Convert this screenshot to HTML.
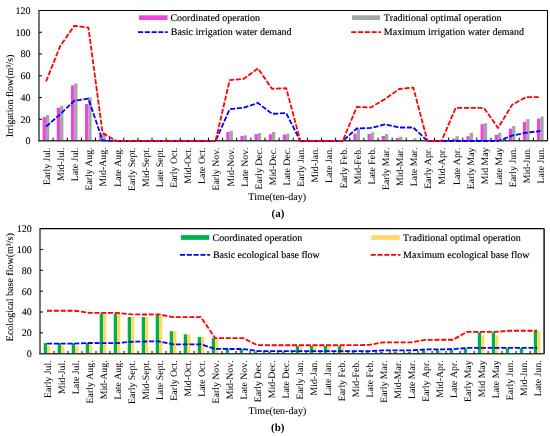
<!DOCTYPE html>
<html><head><meta charset="utf-8"><style>
html,body{margin:0;padding:0;background:#fff;width:550px;height:436px;overflow:hidden}
svg{display:block}
svg{will-change:transform}
text{fill:#000;font-family:"Liberation Serif",serif;font-kerning:none;text-rendering:geometricPrecision}
</style></head><body>
<svg width="550" height="436" viewBox="0 0 550 436">
<rect width="550" height="436" fill="#fff"/>
<rect x="42.66" y="117.08" width="3.30" height="23.92" fill="#EE44E4"/>
<rect x="45.96" y="115.01" width="3.30" height="25.99" fill="#A5A5A5"/>
<rect x="56.79" y="107.83" width="3.30" height="33.17" fill="#EE44E4"/>
<rect x="60.09" y="105.77" width="3.30" height="35.23" fill="#A5A5A5"/>
<rect x="70.91" y="85.43" width="3.30" height="55.57" fill="#EE44E4"/>
<rect x="74.21" y="83.58" width="3.30" height="57.42" fill="#A5A5A5"/>
<rect x="85.04" y="104.03" width="3.30" height="36.97" fill="#EE44E4"/>
<rect x="88.34" y="97.39" width="3.30" height="43.61" fill="#A5A5A5"/>
<rect x="99.16" y="135.02" width="3.30" height="5.98" fill="#EE44E4"/>
<rect x="102.46" y="132.84" width="3.30" height="8.16" fill="#A5A5A5"/>
<rect x="226.29" y="131.97" width="3.30" height="9.03" fill="#EE44E4"/>
<rect x="229.59" y="130.89" width="3.30" height="10.11" fill="#A5A5A5"/>
<rect x="240.41" y="136.00" width="3.30" height="5.00" fill="#EE44E4"/>
<rect x="243.71" y="135.34" width="3.30" height="5.66" fill="#A5A5A5"/>
<rect x="254.54" y="134.04" width="3.30" height="6.96" fill="#EE44E4"/>
<rect x="257.84" y="132.95" width="3.30" height="8.05" fill="#A5A5A5"/>
<rect x="268.66" y="134.26" width="3.30" height="6.74" fill="#EE44E4"/>
<rect x="271.96" y="131.97" width="3.30" height="9.03" fill="#A5A5A5"/>
<rect x="282.79" y="134.69" width="3.30" height="6.31" fill="#EE44E4"/>
<rect x="286.09" y="133.60" width="3.30" height="7.40" fill="#A5A5A5"/>
<rect x="353.41" y="133.60" width="3.30" height="7.40" fill="#EE44E4"/>
<rect x="356.71" y="128.49" width="3.30" height="12.51" fill="#A5A5A5"/>
<rect x="367.54" y="133.93" width="3.30" height="7.07" fill="#EE44E4"/>
<rect x="370.84" y="132.30" width="3.30" height="8.70" fill="#A5A5A5"/>
<rect x="381.66" y="136.00" width="3.30" height="5.00" fill="#EE44E4"/>
<rect x="384.96" y="134.04" width="3.30" height="6.96" fill="#A5A5A5"/>
<rect x="395.79" y="138.06" width="3.30" height="2.94" fill="#EE44E4"/>
<rect x="399.09" y="136.76" width="3.30" height="4.24" fill="#A5A5A5"/>
<rect x="409.91" y="140.67" width="3.30" height="0.33" fill="#EE44E4"/>
<rect x="413.21" y="138.28" width="3.30" height="2.72" fill="#A5A5A5"/>
<rect x="452.29" y="138.61" width="3.30" height="2.39" fill="#EE44E4"/>
<rect x="455.59" y="136.22" width="3.30" height="4.78" fill="#A5A5A5"/>
<rect x="466.41" y="136.22" width="3.30" height="4.78" fill="#EE44E4"/>
<rect x="469.71" y="132.84" width="3.30" height="8.16" fill="#A5A5A5"/>
<rect x="480.54" y="124.25" width="3.30" height="16.75" fill="#EE44E4"/>
<rect x="483.84" y="123.17" width="3.30" height="17.83" fill="#A5A5A5"/>
<rect x="494.66" y="134.80" width="3.30" height="6.20" fill="#EE44E4"/>
<rect x="497.96" y="132.84" width="3.30" height="8.16" fill="#A5A5A5"/>
<rect x="508.79" y="128.71" width="3.30" height="12.29" fill="#EE44E4"/>
<rect x="512.09" y="125.99" width="3.30" height="15.01" fill="#A5A5A5"/>
<rect x="522.91" y="121.86" width="3.30" height="19.14" fill="#EE44E4"/>
<rect x="526.21" y="119.14" width="3.30" height="21.86" fill="#A5A5A5"/>
<rect x="537.04" y="118.71" width="3.30" height="22.29" fill="#EE44E4"/>
<rect x="540.34" y="116.64" width="3.30" height="24.36" fill="#A5A5A5"/>
<line x1="39.0" y1="10.5" x2="547.5" y2="10.5" stroke="#000" stroke-width="1.1"/>
<line x1="547.5" y1="10.5" x2="547.5" y2="140.85" stroke="#000" stroke-width="1.1"/>
<line x1="39.0" y1="10.0" x2="39.0" y2="141.45" stroke="#3a3a3a" stroke-width="1.4"/>
<line x1="38.4" y1="140.85" x2="548.0" y2="140.85" stroke="#3a3a3a" stroke-width="1.5"/>
<line x1="53.12" y1="140.85" x2="53.12" y2="137.65" stroke="#000" stroke-width="1"/>
<line x1="67.25" y1="140.85" x2="67.25" y2="137.65" stroke="#000" stroke-width="1"/>
<line x1="81.38" y1="140.85" x2="81.38" y2="137.65" stroke="#000" stroke-width="1"/>
<line x1="95.50" y1="140.85" x2="95.50" y2="137.65" stroke="#000" stroke-width="1"/>
<line x1="109.62" y1="140.85" x2="109.62" y2="137.65" stroke="#000" stroke-width="1"/>
<line x1="123.75" y1="140.85" x2="123.75" y2="137.65" stroke="#000" stroke-width="1"/>
<line x1="137.88" y1="140.85" x2="137.88" y2="137.65" stroke="#000" stroke-width="1"/>
<line x1="152.00" y1="140.85" x2="152.00" y2="137.65" stroke="#000" stroke-width="1"/>
<line x1="166.12" y1="140.85" x2="166.12" y2="137.65" stroke="#000" stroke-width="1"/>
<line x1="180.25" y1="140.85" x2="180.25" y2="137.65" stroke="#000" stroke-width="1"/>
<line x1="194.38" y1="140.85" x2="194.38" y2="137.65" stroke="#000" stroke-width="1"/>
<line x1="208.50" y1="140.85" x2="208.50" y2="137.65" stroke="#000" stroke-width="1"/>
<line x1="222.62" y1="140.85" x2="222.62" y2="137.65" stroke="#000" stroke-width="1"/>
<line x1="236.75" y1="140.85" x2="236.75" y2="137.65" stroke="#000" stroke-width="1"/>
<line x1="250.88" y1="140.85" x2="250.88" y2="137.65" stroke="#000" stroke-width="1"/>
<line x1="265.00" y1="140.85" x2="265.00" y2="137.65" stroke="#000" stroke-width="1"/>
<line x1="279.12" y1="140.85" x2="279.12" y2="137.65" stroke="#000" stroke-width="1"/>
<line x1="293.25" y1="140.85" x2="293.25" y2="137.65" stroke="#000" stroke-width="1"/>
<line x1="307.38" y1="140.85" x2="307.38" y2="137.65" stroke="#000" stroke-width="1"/>
<line x1="321.50" y1="140.85" x2="321.50" y2="137.65" stroke="#000" stroke-width="1"/>
<line x1="335.62" y1="140.85" x2="335.62" y2="137.65" stroke="#000" stroke-width="1"/>
<line x1="349.75" y1="140.85" x2="349.75" y2="137.65" stroke="#000" stroke-width="1"/>
<line x1="363.88" y1="140.85" x2="363.88" y2="137.65" stroke="#000" stroke-width="1"/>
<line x1="378.00" y1="140.85" x2="378.00" y2="137.65" stroke="#000" stroke-width="1"/>
<line x1="392.12" y1="140.85" x2="392.12" y2="137.65" stroke="#000" stroke-width="1"/>
<line x1="406.25" y1="140.85" x2="406.25" y2="137.65" stroke="#000" stroke-width="1"/>
<line x1="420.38" y1="140.85" x2="420.38" y2="137.65" stroke="#000" stroke-width="1"/>
<line x1="434.50" y1="140.85" x2="434.50" y2="137.65" stroke="#000" stroke-width="1"/>
<line x1="448.62" y1="140.85" x2="448.62" y2="137.65" stroke="#000" stroke-width="1"/>
<line x1="462.75" y1="140.85" x2="462.75" y2="137.65" stroke="#000" stroke-width="1"/>
<line x1="476.88" y1="140.85" x2="476.88" y2="137.65" stroke="#000" stroke-width="1"/>
<line x1="491.00" y1="140.85" x2="491.00" y2="137.65" stroke="#000" stroke-width="1"/>
<line x1="505.12" y1="140.85" x2="505.12" y2="137.65" stroke="#000" stroke-width="1"/>
<line x1="519.25" y1="140.85" x2="519.25" y2="137.65" stroke="#000" stroke-width="1"/>
<line x1="533.38" y1="140.85" x2="533.38" y2="137.65" stroke="#000" stroke-width="1"/>
<line x1="39.0" y1="119.25" x2="42.00" y2="119.25" stroke="#000" stroke-width="1"/>
<line x1="39.0" y1="97.50" x2="42.00" y2="97.50" stroke="#000" stroke-width="1"/>
<line x1="39.0" y1="75.75" x2="42.00" y2="75.75" stroke="#000" stroke-width="1"/>
<line x1="39.0" y1="54.00" x2="42.00" y2="54.00" stroke="#000" stroke-width="1"/>
<line x1="39.0" y1="32.25" x2="42.00" y2="32.25" stroke="#000" stroke-width="1"/>
<polyline points="46.06,126.64 60.19,114.25 74.31,100.76 88.44,98.70 102.56,140.46 116.69,141.00 130.81,141.00 144.94,141.00 159.06,141.00 173.19,141.00 187.31,141.00 201.44,141.00 215.56,141.00 229.69,109.25 243.81,107.72 257.94,102.94 272.06,113.81 286.19,113.16 300.31,141.00 314.44,141.00 328.56,141.00 342.69,141.00 356.81,128.49 370.94,127.95 385.06,124.36 399.19,127.52 413.31,127.52 427.44,141.00 441.56,141.00 455.69,141.00 469.81,141.00 483.94,141.00 498.06,141.00 512.19,135.56 526.31,132.74 540.44,131.00" fill="none" stroke="#0000FF" stroke-width="1.8" stroke-dasharray="5.1 1.7" stroke-linejoin="round"/>
<line x1="116.69" y1="141.00" x2="215.56" y2="141.00" stroke="#0000FF" stroke-width="1.8"/>
<line x1="300.31" y1="141.00" x2="342.69" y2="141.00" stroke="#0000FF" stroke-width="1.8"/>
<line x1="427.44" y1="141.00" x2="441.56" y2="141.00" stroke="#0000FF" stroke-width="1.8"/>
<polyline points="46.06,81.51 60.19,46.06 74.31,25.83 88.44,27.57 102.56,133.06 116.69,141.00 130.81,141.00 144.94,141.00 159.06,141.00 173.19,141.00 187.31,141.00 201.44,141.00 215.56,141.00 229.69,80.10 243.81,78.80 257.94,68.46 272.06,88.80 286.19,88.15 300.31,141.00 314.44,141.00 328.56,141.00 342.69,141.00 356.81,106.96 370.94,107.40 385.06,99.02 399.19,89.02 413.31,87.60 427.44,141.00 441.56,141.00 455.69,107.94 469.81,107.94 483.94,107.94 498.06,127.95 512.19,104.68 526.31,97.06 540.44,97.06" fill="none" stroke="#FF0000" stroke-width="1.8" stroke-dasharray="5.1 1.7" stroke-linejoin="round"/>
<text x="30.60" y="144.40" text-anchor="end" font-size="10" stroke="#000" stroke-width="0.08">0</text>
<text x="30.60" y="122.65" text-anchor="end" font-size="10" stroke="#000" stroke-width="0.08">20</text>
<text x="30.60" y="100.90" text-anchor="end" font-size="10" stroke="#000" stroke-width="0.08">40</text>
<text x="30.60" y="79.15" text-anchor="end" font-size="10" stroke="#000" stroke-width="0.08">60</text>
<text x="30.60" y="57.40" text-anchor="end" font-size="10" stroke="#000" stroke-width="0.08">80</text>
<text x="30.60" y="35.65" text-anchor="end" font-size="10" stroke="#000" stroke-width="0.08">100</text>
<text x="30.60" y="13.90" text-anchor="end" font-size="10" stroke="#000" stroke-width="0.08">120</text>
<text transform="translate(49.96,147.50) rotate(-90)" text-anchor="end" font-size="9.8">Early Jul.</text>
<text transform="translate(64.09,147.50) rotate(-90)" text-anchor="end" font-size="9.8">Mid-Jul.</text>
<text transform="translate(78.21,147.50) rotate(-90)" text-anchor="end" font-size="9.8">Late Jul.</text>
<text transform="translate(92.34,147.50) rotate(-90)" text-anchor="end" font-size="9.8">Early Aug.</text>
<text transform="translate(106.46,147.50) rotate(-90)" text-anchor="end" font-size="9.8">Mid-Aug.</text>
<text transform="translate(120.59,147.50) rotate(-90)" text-anchor="end" font-size="9.8">Late Aug.</text>
<text transform="translate(134.71,147.50) rotate(-90)" text-anchor="end" font-size="9.8">Early Sept.</text>
<text transform="translate(148.84,147.50) rotate(-90)" text-anchor="end" font-size="9.8">Mid-Sept.</text>
<text transform="translate(162.96,147.50) rotate(-90)" text-anchor="end" font-size="9.8">Late Sept.</text>
<text transform="translate(177.09,147.50) rotate(-90)" text-anchor="end" font-size="9.8">Early Oct.</text>
<text transform="translate(191.21,147.50) rotate(-90)" text-anchor="end" font-size="9.8">Mid-Oct.</text>
<text transform="translate(205.34,147.50) rotate(-90)" text-anchor="end" font-size="9.8">Late Oct.</text>
<text transform="translate(219.46,147.50) rotate(-90)" text-anchor="end" font-size="9.8">Early Nov.</text>
<text transform="translate(233.59,147.50) rotate(-90)" text-anchor="end" font-size="9.8">Mid-Nov.</text>
<text transform="translate(247.71,147.50) rotate(-90)" text-anchor="end" font-size="9.8">Late Nov.</text>
<text transform="translate(261.84,147.50) rotate(-90)" text-anchor="end" font-size="9.8">Early Dec.</text>
<text transform="translate(275.96,147.50) rotate(-90)" text-anchor="end" font-size="9.8">Mid-Dec.</text>
<text transform="translate(290.09,147.50) rotate(-90)" text-anchor="end" font-size="9.8">Late Dec.</text>
<text transform="translate(304.21,147.50) rotate(-90)" text-anchor="end" font-size="9.8">Early Jan.</text>
<text transform="translate(318.34,147.50) rotate(-90)" text-anchor="end" font-size="9.8">Mid-Jan.</text>
<text transform="translate(332.46,147.50) rotate(-90)" text-anchor="end" font-size="9.8">Late Jan.</text>
<text transform="translate(346.59,147.50) rotate(-90)" text-anchor="end" font-size="9.8">Early Feb.</text>
<text transform="translate(360.71,147.50) rotate(-90)" text-anchor="end" font-size="9.8">Mid-Feb.</text>
<text transform="translate(374.84,147.50) rotate(-90)" text-anchor="end" font-size="9.8">Late Feb.</text>
<text transform="translate(388.96,147.50) rotate(-90)" text-anchor="end" font-size="9.8">Early Mar.</text>
<text transform="translate(403.09,147.50) rotate(-90)" text-anchor="end" font-size="9.8">Mid-Mar.</text>
<text transform="translate(417.21,147.50) rotate(-90)" text-anchor="end" font-size="9.8">Late Mar.</text>
<text transform="translate(431.34,147.50) rotate(-90)" text-anchor="end" font-size="9.8">Early Apr.</text>
<text transform="translate(445.46,147.50) rotate(-90)" text-anchor="end" font-size="9.8">Mid-Apr.</text>
<text transform="translate(459.59,147.50) rotate(-90)" text-anchor="end" font-size="9.8">Late Apr.</text>
<text transform="translate(473.71,147.50) rotate(-90)" text-anchor="end" font-size="9.8">Early May</text>
<text transform="translate(487.84,147.50) rotate(-90)" text-anchor="end" font-size="9.8">Mid May</text>
<text transform="translate(501.96,147.50) rotate(-90)" text-anchor="end" font-size="9.8">Late May</text>
<text transform="translate(516.09,147.50) rotate(-90)" text-anchor="end" font-size="9.8">Early Jun.</text>
<text transform="translate(530.21,147.50) rotate(-90)" text-anchor="end" font-size="9.8">Mid-Jun.</text>
<text transform="translate(544.34,147.50) rotate(-90)" text-anchor="end" font-size="9.8">Late Jun.</text>
<text transform="translate(12.70,96.00) rotate(-90)" text-anchor="middle" font-size="10" stroke="#000" stroke-width="0.08">Irrigation flow(m³/s)</text>
<text x="277.10" y="199.50" text-anchor="middle" font-size="10" stroke="#000" stroke-width="0.08">Time(ten-day)</text>
<text x="278.00" y="216.70" text-anchor="middle" font-size="11" font-weight="bold">(a)</text>
<rect x="139.0" y="15.3" width="28.50" height="4.70" fill="#EE44E4"/>
<rect x="352.1" y="15.3" width="28.00" height="4.70" fill="#A5A5A5"/>
<line x1="138.0" y1="32.05" x2="167.8" y2="32.05" stroke="#0000FF" stroke-width="1.8" stroke-dasharray="5.1 1.7"/>
<line x1="351.2" y1="32.05" x2="381.0" y2="32.05" stroke="#FF0000" stroke-width="1.8" stroke-dasharray="5.1 1.7"/>
<text x="170.40" y="20.70" font-size="10" stroke="#000" stroke-width="0.15">Coordinated operation</text>
<text x="170.80" y="34.80" font-size="10" stroke="#000" stroke-width="0.15">Basic irrigation water demand</text>
<text x="383.70" y="20.70" font-size="10" stroke="#000" stroke-width="0.15">Traditional optimal operation</text>
<text x="383.80" y="34.80" font-size="10" stroke="#000" stroke-width="0.15">Maximum irrigation water demand</text>
<rect x="43.70" y="343.07" width="3.30" height="10.63" fill="#00B050"/>
<rect x="47.00" y="345.99" width="3.30" height="7.71" fill="#FFD966"/>
<rect x="57.70" y="343.07" width="3.30" height="10.63" fill="#00B050"/>
<rect x="61.00" y="345.99" width="3.30" height="7.71" fill="#FFD966"/>
<rect x="71.71" y="343.07" width="3.30" height="10.63" fill="#00B050"/>
<rect x="75.01" y="345.99" width="3.30" height="7.71" fill="#FFD966"/>
<rect x="85.71" y="343.07" width="3.30" height="10.63" fill="#00B050"/>
<rect x="89.01" y="344.32" width="3.30" height="9.38" fill="#FFD966"/>
<rect x="99.71" y="313.56" width="3.30" height="40.14" fill="#00B050"/>
<rect x="103.01" y="313.56" width="3.30" height="40.14" fill="#FFD966"/>
<rect x="113.72" y="313.56" width="3.30" height="40.14" fill="#00B050"/>
<rect x="117.02" y="313.56" width="3.30" height="40.14" fill="#FFD966"/>
<rect x="127.72" y="317.00" width="3.30" height="36.70" fill="#00B050"/>
<rect x="131.02" y="317.00" width="3.30" height="36.70" fill="#FFD966"/>
<rect x="141.72" y="317.00" width="3.30" height="36.70" fill="#00B050"/>
<rect x="145.02" y="317.00" width="3.30" height="36.70" fill="#FFD966"/>
<rect x="155.72" y="314.81" width="3.30" height="38.89" fill="#00B050"/>
<rect x="159.02" y="315.23" width="3.30" height="38.47" fill="#FFD966"/>
<rect x="169.73" y="331.18" width="3.30" height="22.52" fill="#00B050"/>
<rect x="173.03" y="331.18" width="3.30" height="22.52" fill="#FFD966"/>
<rect x="183.73" y="334.31" width="3.30" height="19.39" fill="#00B050"/>
<rect x="187.03" y="334.31" width="3.30" height="19.39" fill="#FFD966"/>
<rect x="197.73" y="337.02" width="3.30" height="16.68" fill="#00B050"/>
<rect x="201.03" y="337.02" width="3.30" height="16.68" fill="#FFD966"/>
<rect x="211.73" y="338.06" width="3.30" height="15.64" fill="#00B050"/>
<rect x="215.03" y="338.48" width="3.30" height="15.22" fill="#FFD966"/>
<rect x="225.74" y="349.22" width="3.30" height="4.48" fill="#00B050"/>
<rect x="239.74" y="349.22" width="3.30" height="4.48" fill="#00B050"/>
<rect x="253.74" y="351.41" width="3.30" height="2.29" fill="#00B050"/>
<rect x="267.75" y="351.62" width="3.30" height="2.08" fill="#00B050"/>
<rect x="281.75" y="351.62" width="3.30" height="2.08" fill="#00B050"/>
<rect x="295.75" y="345.99" width="3.30" height="7.71" fill="#00B050"/>
<rect x="299.05" y="347.24" width="3.30" height="6.46" fill="#FFD966"/>
<rect x="309.75" y="345.99" width="3.30" height="7.71" fill="#00B050"/>
<rect x="313.05" y="347.24" width="3.30" height="6.46" fill="#FFD966"/>
<rect x="323.76" y="345.99" width="3.30" height="7.71" fill="#00B050"/>
<rect x="327.06" y="347.24" width="3.30" height="6.46" fill="#FFD966"/>
<rect x="337.76" y="345.99" width="3.30" height="7.71" fill="#00B050"/>
<rect x="341.06" y="347.24" width="3.30" height="6.46" fill="#FFD966"/>
<rect x="351.76" y="352.03" width="3.30" height="1.67" fill="#00B050"/>
<rect x="365.77" y="352.03" width="3.30" height="1.67" fill="#00B050"/>
<rect x="379.77" y="351.82" width="3.30" height="1.88" fill="#00B050"/>
<rect x="393.77" y="351.82" width="3.30" height="1.88" fill="#00B050"/>
<rect x="407.77" y="351.82" width="3.30" height="1.88" fill="#00B050"/>
<rect x="421.78" y="349.63" width="3.30" height="4.07" fill="#00B050"/>
<rect x="425.08" y="350.89" width="3.30" height="2.81" fill="#FFD966"/>
<rect x="435.78" y="349.63" width="3.30" height="4.07" fill="#00B050"/>
<rect x="439.08" y="350.99" width="3.30" height="2.71" fill="#FFD966"/>
<rect x="449.78" y="349.63" width="3.30" height="4.07" fill="#00B050"/>
<rect x="463.78" y="348.38" width="3.30" height="5.32" fill="#00B050"/>
<rect x="477.79" y="332.33" width="3.30" height="21.37" fill="#00B050"/>
<rect x="481.09" y="335.14" width="3.30" height="18.56" fill="#FFD966"/>
<rect x="491.79" y="332.33" width="3.30" height="21.37" fill="#00B050"/>
<rect x="495.09" y="335.14" width="3.30" height="18.56" fill="#FFD966"/>
<rect x="505.79" y="348.17" width="3.30" height="5.53" fill="#00B050"/>
<rect x="519.80" y="348.17" width="3.30" height="5.53" fill="#00B050"/>
<rect x="533.80" y="330.97" width="3.30" height="22.73" fill="#00B050"/>
<rect x="537.10" y="330.97" width="3.30" height="22.73" fill="#FFD966"/>
<line x1="40.0" y1="228.6" x2="544.1" y2="228.6" stroke="#000" stroke-width="1.1"/>
<line x1="544.1" y1="228.6" x2="544.1" y2="353.7" stroke="#000" stroke-width="1.4"/>
<line x1="40.0" y1="228.1" x2="40.0" y2="354.3" stroke="#3a3a3a" stroke-width="1.4"/>
<line x1="39.4" y1="353.7" x2="544.6" y2="353.7" stroke="#3a3a3a" stroke-width="1.4"/>
<line x1="54.00" y1="353.7" x2="54.00" y2="351.00" stroke="#000" stroke-width="1"/>
<line x1="68.01" y1="353.7" x2="68.01" y2="351.00" stroke="#000" stroke-width="1"/>
<line x1="82.01" y1="353.7" x2="82.01" y2="351.00" stroke="#000" stroke-width="1"/>
<line x1="96.01" y1="353.7" x2="96.01" y2="351.00" stroke="#000" stroke-width="1"/>
<line x1="110.01" y1="353.7" x2="110.01" y2="351.00" stroke="#000" stroke-width="1"/>
<line x1="124.02" y1="353.7" x2="124.02" y2="351.00" stroke="#000" stroke-width="1"/>
<line x1="138.02" y1="353.7" x2="138.02" y2="351.00" stroke="#000" stroke-width="1"/>
<line x1="152.02" y1="353.7" x2="152.02" y2="351.00" stroke="#000" stroke-width="1"/>
<line x1="166.03" y1="353.7" x2="166.03" y2="351.00" stroke="#000" stroke-width="1"/>
<line x1="180.03" y1="353.7" x2="180.03" y2="351.00" stroke="#000" stroke-width="1"/>
<line x1="194.03" y1="353.7" x2="194.03" y2="351.00" stroke="#000" stroke-width="1"/>
<line x1="208.03" y1="353.7" x2="208.03" y2="351.00" stroke="#000" stroke-width="1"/>
<line x1="222.04" y1="353.7" x2="222.04" y2="351.00" stroke="#000" stroke-width="1"/>
<line x1="236.04" y1="353.7" x2="236.04" y2="351.00" stroke="#000" stroke-width="1"/>
<line x1="250.04" y1="353.7" x2="250.04" y2="351.00" stroke="#000" stroke-width="1"/>
<line x1="264.04" y1="353.7" x2="264.04" y2="351.00" stroke="#000" stroke-width="1"/>
<line x1="278.05" y1="353.7" x2="278.05" y2="351.00" stroke="#000" stroke-width="1"/>
<line x1="292.05" y1="353.7" x2="292.05" y2="351.00" stroke="#000" stroke-width="1"/>
<line x1="306.05" y1="353.7" x2="306.05" y2="351.00" stroke="#000" stroke-width="1"/>
<line x1="320.06" y1="353.7" x2="320.06" y2="351.00" stroke="#000" stroke-width="1"/>
<line x1="334.06" y1="353.7" x2="334.06" y2="351.00" stroke="#000" stroke-width="1"/>
<line x1="348.06" y1="353.7" x2="348.06" y2="351.00" stroke="#000" stroke-width="1"/>
<line x1="362.06" y1="353.7" x2="362.06" y2="351.00" stroke="#000" stroke-width="1"/>
<line x1="376.07" y1="353.7" x2="376.07" y2="351.00" stroke="#000" stroke-width="1"/>
<line x1="390.07" y1="353.7" x2="390.07" y2="351.00" stroke="#000" stroke-width="1"/>
<line x1="404.07" y1="353.7" x2="404.07" y2="351.00" stroke="#000" stroke-width="1"/>
<line x1="418.07" y1="353.7" x2="418.07" y2="351.00" stroke="#000" stroke-width="1"/>
<line x1="432.08" y1="353.7" x2="432.08" y2="351.00" stroke="#000" stroke-width="1"/>
<line x1="446.08" y1="353.7" x2="446.08" y2="351.00" stroke="#000" stroke-width="1"/>
<line x1="460.08" y1="353.7" x2="460.08" y2="351.00" stroke="#000" stroke-width="1"/>
<line x1="474.09" y1="353.7" x2="474.09" y2="351.00" stroke="#000" stroke-width="1"/>
<line x1="488.09" y1="353.7" x2="488.09" y2="351.00" stroke="#000" stroke-width="1"/>
<line x1="502.09" y1="353.7" x2="502.09" y2="351.00" stroke="#000" stroke-width="1"/>
<line x1="516.09" y1="353.7" x2="516.09" y2="351.00" stroke="#000" stroke-width="1"/>
<line x1="530.10" y1="353.7" x2="530.10" y2="351.00" stroke="#000" stroke-width="1"/>
<line x1="40.0" y1="332.85" x2="43.00" y2="332.85" stroke="#000" stroke-width="1"/>
<line x1="40.0" y1="312.00" x2="43.00" y2="312.00" stroke="#000" stroke-width="1"/>
<line x1="40.0" y1="291.15" x2="43.00" y2="291.15" stroke="#000" stroke-width="1"/>
<line x1="40.0" y1="270.30" x2="43.00" y2="270.30" stroke="#000" stroke-width="1"/>
<line x1="40.0" y1="249.45" x2="43.00" y2="249.45" stroke="#000" stroke-width="1"/>
<polyline points="47.00,343.69 61.00,343.69 75.01,343.69 89.01,342.96 103.01,343.07 117.02,343.07 131.02,341.82 145.02,341.50 159.02,341.40 173.03,344.32 187.03,344.32 201.03,344.32 215.03,348.90 229.04,349.01 243.04,349.01 257.04,350.99 271.05,351.20 285.05,351.20 299.05,351.20 313.05,351.20 327.06,351.20 341.06,351.20 355.06,351.20 369.07,351.20 383.07,350.36 397.07,350.36 411.07,350.36 425.08,349.43 439.08,349.43 453.08,349.11 467.08,347.97 481.09,347.86 495.09,347.86 509.09,347.86 523.10,347.86 537.10,347.86" fill="none" stroke="#0000FF" stroke-width="1.8" stroke-dasharray="5.1 1.7" stroke-linejoin="round"/>
<polyline points="47.00,310.75 61.00,310.75 75.01,310.75 89.01,312.94 103.01,312.94 117.02,312.94 131.02,314.40 145.02,314.50 159.02,314.40 173.03,317.11 187.03,317.11 201.03,317.11 215.03,338.06 229.04,338.06 243.04,338.06 257.04,345.05 271.05,345.26 285.05,345.26 299.05,345.26 313.05,345.26 327.06,345.26 341.06,345.26 355.06,345.15 369.07,344.94 383.07,342.34 397.07,342.34 411.07,342.34 425.08,339.94 439.08,339.73 453.08,339.73 467.08,331.91 481.09,331.91 495.09,331.91 509.09,330.76 523.10,330.76 537.10,330.76" fill="none" stroke="#FF0000" stroke-width="1.8" stroke-dasharray="5.1 1.7" stroke-linejoin="round"/>
<text x="31.80" y="357.10" text-anchor="end" font-size="10" stroke="#000" stroke-width="0.08">0</text>
<text x="31.80" y="336.25" text-anchor="end" font-size="10" stroke="#000" stroke-width="0.08">20</text>
<text x="31.80" y="315.40" text-anchor="end" font-size="10" stroke="#000" stroke-width="0.08">40</text>
<text x="31.80" y="294.55" text-anchor="end" font-size="10" stroke="#000" stroke-width="0.08">60</text>
<text x="31.80" y="273.70" text-anchor="end" font-size="10" stroke="#000" stroke-width="0.08">80</text>
<text x="31.80" y="252.85" text-anchor="end" font-size="10" stroke="#000" stroke-width="0.08">100</text>
<text x="31.80" y="232.00" text-anchor="end" font-size="10" stroke="#000" stroke-width="0.08">120</text>
<text transform="translate(50.90,360.40) rotate(-90)" text-anchor="end" font-size="9.8">Early Jul.</text>
<text transform="translate(64.90,360.40) rotate(-90)" text-anchor="end" font-size="9.8">Mid-Jul.</text>
<text transform="translate(78.91,360.40) rotate(-90)" text-anchor="end" font-size="9.8">Late Jul.</text>
<text transform="translate(92.91,360.40) rotate(-90)" text-anchor="end" font-size="9.8">Early Aug.</text>
<text transform="translate(106.91,360.40) rotate(-90)" text-anchor="end" font-size="9.8">Mid-Aug.</text>
<text transform="translate(120.92,360.40) rotate(-90)" text-anchor="end" font-size="9.8">Late Aug.</text>
<text transform="translate(134.92,360.40) rotate(-90)" text-anchor="end" font-size="9.8">Early Sept.</text>
<text transform="translate(148.92,360.40) rotate(-90)" text-anchor="end" font-size="9.8">Mid-Sept.</text>
<text transform="translate(162.92,360.40) rotate(-90)" text-anchor="end" font-size="9.8">Late Sept.</text>
<text transform="translate(176.93,360.40) rotate(-90)" text-anchor="end" font-size="9.8">Early Oct.</text>
<text transform="translate(190.93,360.40) rotate(-90)" text-anchor="end" font-size="9.8">Mid-Oct.</text>
<text transform="translate(204.93,360.40) rotate(-90)" text-anchor="end" font-size="9.8">Late Oct.</text>
<text transform="translate(218.93,360.40) rotate(-90)" text-anchor="end" font-size="9.8">Early Nov.</text>
<text transform="translate(232.94,360.40) rotate(-90)" text-anchor="end" font-size="9.8">Mid-Nov.</text>
<text transform="translate(246.94,360.40) rotate(-90)" text-anchor="end" font-size="9.8">Late Nov.</text>
<text transform="translate(260.94,360.40) rotate(-90)" text-anchor="end" font-size="9.8">Early Dec.</text>
<text transform="translate(274.95,360.40) rotate(-90)" text-anchor="end" font-size="9.8">Mid-Dec.</text>
<text transform="translate(288.95,360.40) rotate(-90)" text-anchor="end" font-size="9.8">Late Dec.</text>
<text transform="translate(302.95,360.40) rotate(-90)" text-anchor="end" font-size="9.8">Early Jan.</text>
<text transform="translate(316.95,360.40) rotate(-90)" text-anchor="end" font-size="9.8">Mid-Jan.</text>
<text transform="translate(330.96,360.40) rotate(-90)" text-anchor="end" font-size="9.8">Late Jan.</text>
<text transform="translate(344.96,360.40) rotate(-90)" text-anchor="end" font-size="9.8">Early Feb.</text>
<text transform="translate(358.96,360.40) rotate(-90)" text-anchor="end" font-size="9.8">Mid-Feb.</text>
<text transform="translate(372.97,360.40) rotate(-90)" text-anchor="end" font-size="9.8">Late Feb.</text>
<text transform="translate(386.97,360.40) rotate(-90)" text-anchor="end" font-size="9.8">Early Mar.</text>
<text transform="translate(400.97,360.40) rotate(-90)" text-anchor="end" font-size="9.8">Mid-Mar.</text>
<text transform="translate(414.97,360.40) rotate(-90)" text-anchor="end" font-size="9.8">Late Mar.</text>
<text transform="translate(428.98,360.40) rotate(-90)" text-anchor="end" font-size="9.8">Early Apr.</text>
<text transform="translate(442.98,360.40) rotate(-90)" text-anchor="end" font-size="9.8">Mid-Apr.</text>
<text transform="translate(456.98,360.40) rotate(-90)" text-anchor="end" font-size="9.8">Late Apr.</text>
<text transform="translate(470.98,360.40) rotate(-90)" text-anchor="end" font-size="9.8">Early May</text>
<text transform="translate(484.99,360.40) rotate(-90)" text-anchor="end" font-size="9.8">Mid May</text>
<text transform="translate(498.99,360.40) rotate(-90)" text-anchor="end" font-size="9.8">Late May</text>
<text transform="translate(512.99,360.40) rotate(-90)" text-anchor="end" font-size="9.8">Early Jun.</text>
<text transform="translate(527.00,360.40) rotate(-90)" text-anchor="end" font-size="9.8">Mid-Jun.</text>
<text transform="translate(541.00,360.40) rotate(-90)" text-anchor="end" font-size="9.8">Late Jun.</text>
<text transform="translate(12.90,287.20) rotate(-90)" text-anchor="middle" font-size="10" stroke="#000" stroke-width="0.08">Ecological base flow(m³/s)</text>
<text x="277.35" y="414.10" text-anchor="middle" font-size="10" stroke="#000" stroke-width="0.08">Time(ten-day)</text>
<text x="277.70" y="430.50" text-anchor="middle" font-size="11" font-weight="bold">(b)</text>
<rect x="180.9" y="235.15" width="28.40" height="4.70" fill="#00B050"/>
<rect x="371.3" y="235.15" width="28.40" height="4.70" fill="#FFD966"/>
<line x1="180.0" y1="254.9" x2="210.1" y2="254.9" stroke="#0000FF" stroke-width="1.8" stroke-dasharray="5.1 1.7"/>
<line x1="370.7" y1="254.9" x2="400.5" y2="254.9" stroke="#FF0000" stroke-width="1.8" stroke-dasharray="5.1 1.7"/>
<text x="212.50" y="240.70" font-size="10" stroke="#000" stroke-width="0.15">Coordinated operation</text>
<text x="212.90" y="257.80" font-size="10" stroke="#000" stroke-width="0.15">Basic ecological base flow</text>
<text x="403.00" y="240.70" font-size="10" stroke="#000" stroke-width="0.15">Traditional optimal operation</text>
<text x="403.10" y="257.80" font-size="10" stroke="#000" stroke-width="0.15">Maximum ecological base flow</text>
</svg>
</body></html>
